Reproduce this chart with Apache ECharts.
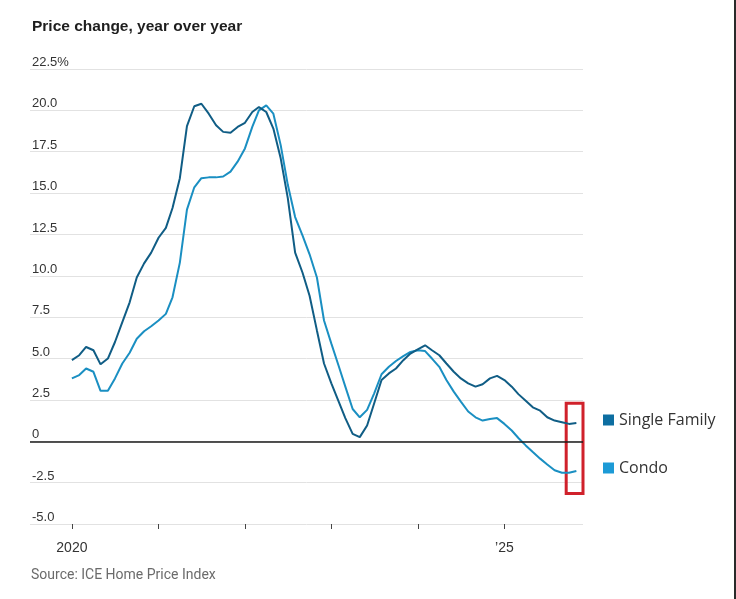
<!DOCTYPE html>
<html>
<head>
<meta charset="utf-8">
<script src="https://cdn.jsdelivr.net/npm/echarts@6/dist/echarts.min.js"></script>
<style>
  html, body { margin: 0; padding: 0; background: #fff; }
  #chart { width: 736px; height: 599px; box-sizing: border-box; border-right: 2px solid #2a2a2a; }
</style>
</head>
<body>
<div id="chart"></div>
<script>
// ---- Data (monthly, Jan 2020 – Nov 2025), percent change year over year ----
const titleText = 'Price change, year over year';
const sourceText = 'Source: ICE Home Price Index';
const seriesNames = ['Single Family', 'Condo'];
const startYear = 2020;
const startMonth = 0; // January

const singleFamily = [
  4.9, 5.2, 5.7, 5.5, 4.65, 5.0, 6.0, 7.2, 8.4, 9.9, 10.75, 11.4,
  12.3, 12.9, 14.1, 15.9, 19.05, 20.25, 20.4, 19.8, 19.1, 18.7, 18.65, 19.0,
  19.25, 19.9, 20.2, 19.9, 18.9, 17.1, 14.7, 11.4, 10.2, 8.8, 6.7, 4.7,
  3.5, 2.4, 1.4, 0.45, 0.25, 0.95, 2.3, 3.7, 4.1, 4.4, 4.9, 5.3,
  5.55, 5.8, 5.5, 5.2, 4.7, 4.2, 3.8, 3.5, 3.3, 3.45, 3.8, 3.95,
  3.7, 3.3, 2.85, 2.45, 2.05, 1.85, 1.45, 1.25, 1.15, 1.05, 1.1
];
const condo = [
  3.8, 4.0, 4.4, 4.2, 3.05, 3.05, 3.8, 4.7, 5.35, 6.2, 6.65, 6.95,
  7.3, 7.7, 8.7, 10.8, 14.0, 15.35, 15.9, 15.95, 15.95, 16.0, 16.3, 16.9,
  17.7, 19.0, 20.0, 20.3, 19.8, 17.9, 15.5, 13.55, 12.45, 11.3, 9.9, 7.3,
  5.9, 4.55, 3.3, 1.95, 1.45, 1.9, 2.9, 4.05, 4.5, 4.85, 5.15, 5.4,
  5.5, 5.45, 5.0, 4.5, 3.7, 3.0, 2.4, 1.8, 1.45, 1.25, 1.35, 1.4,
  1.05, 0.65, 0.2, -0.25, -0.65, -1.05, -1.4, -1.75, -1.9, -1.9, -1.8
];
const yTicks = { min: -5, max: 22.5, step: 2.5 };
const xTickLabels = { 2020: '2020', 2025: '\u201925' };
const axisRange = ['2019-07-08', '2025-11-29'];
const highlightBox = { from: '2025-09-19', to: '2025-12-16', top: 2.3, bottom: -3.15 };

// ---- Build ----
const dates = singleFamily.map((_, i) => Date.UTC(startYear, startMonth + i, 1));
const toPairs = arr => arr.map((v, i) => [dates[i], v]);
const ts = s => new Date(s + 'T00:00:00Z').getTime();

const labelFont = '"Liberation Sans", Arial, sans-serif';

const chart = echarts.init(document.getElementById('chart'), null, { renderer: 'canvas' });
const YEAR = 365.25 * 24 * 3600 * 1000;

chart.setOption({
  animation: false,
  backgroundColor: '#ffffff',
  title: [
    {
      text: titleText, left: 32, top: 19, padding: 0,
      textStyle: { fontFamily: labelFont, fontSize: 15.5, fontWeight: 'bold', color: '#1e1e1e' }
    },
    {
      text: sourceText, left: 31, top: 568, padding: 0,
      textStyle: { fontFamily: 'Roboto, sans-serif', fontSize: 14, fontWeight: 'normal', color: '#6b6b6b' }
    }
  ],
  legend: {
    orient: 'vertical', left: 598, top: 405,
    itemWidth: 11, itemHeight: 11, itemGap: 28, icon: 'rect',
    textStyle: { fontFamily: '"Open Sans", sans-serif', fontSize: 16, color: '#333', lineHeight: 20 },
    data: seriesNames
  },
  grid: { left: 30, right: 151, top: 69, bottom: 75, containLabel: false },
  xAxis: {
    type: 'time',
    position: 'bottom',
    min: ts(axisRange[0]), max: ts(axisRange[1]),
    minInterval: YEAR, maxInterval: YEAR,
    axisLine: { show: false, onZero: false },
    axisTick: { show: true, length: 5, lineStyle: { color: '#444', width: 1 } },
    splitLine: { show: false },
    axisLabel: {
      margin: 17, showMinLabel: false, showMaxLabel: false,
      fontFamily: labelFont, fontSize: 14, color: '#333',
      formatter: v => {
        const d = new Date(v);
        if (d.getUTCMonth() !== 0) return '';
        return xTickLabels[d.getUTCFullYear()] || '';
      }
    }
  },
  yAxis: {
    type: 'value', min: yTicks.min, max: yTicks.max, interval: yTicks.step,
    axisLine: { show: false }, axisTick: { show: false },
    splitLine: { show: true, lineStyle: { color: '#e2e2e2', width: 1 } },
    axisLabel: {
      inside: true, margin: 2, align: 'left', verticalAlign: 'bottom',
      padding: [0, 0, 0, 0],
      fontFamily: labelFont, fontSize: 13, color: '#333',
      formatter: v => v === yTicks.max ? v.toFixed(1) + '%' : (v === 0 ? '0' : v.toFixed(1))
    }
  },
  series: [
    {
      name: seriesNames[0], type: 'line', data: toPairs(singleFamily),
      showSymbol: false, symbol: 'none', smooth: false,
      itemStyle: { color: '#0d6ea1' },
      lineStyle: { color: '#105d85', width: 2 },
      markLine: {
        silent: true, symbol: 'none', label: { show: false },
        lineStyle: { color: '#1a1a1a', width: 1.5, type: 'solid' },
        data: [{ yAxis: 0 }]
      },
      z: 3
    },
    {
      name: seriesNames[1], type: 'line', data: toPairs(condo),
      showSymbol: false, symbol: 'none', smooth: false, clip: false,
      itemStyle: { color: '#1c9ad6' },
      lineStyle: { color: '#1a8fc2', width: 2 },
      markArea: {
        silent: true,
        itemStyle: { color: 'rgba(0,0,0,0)', borderColor: '#d0212b', borderWidth: 3 },
        data: [[
          { xAxis: ts(highlightBox.from), yAxis: highlightBox.top },
          { xAxis: ts(highlightBox.to), yAxis: highlightBox.bottom }
        ]]
      },
      z: 2
    }
  ]
});
</script>
</body>
</html>
